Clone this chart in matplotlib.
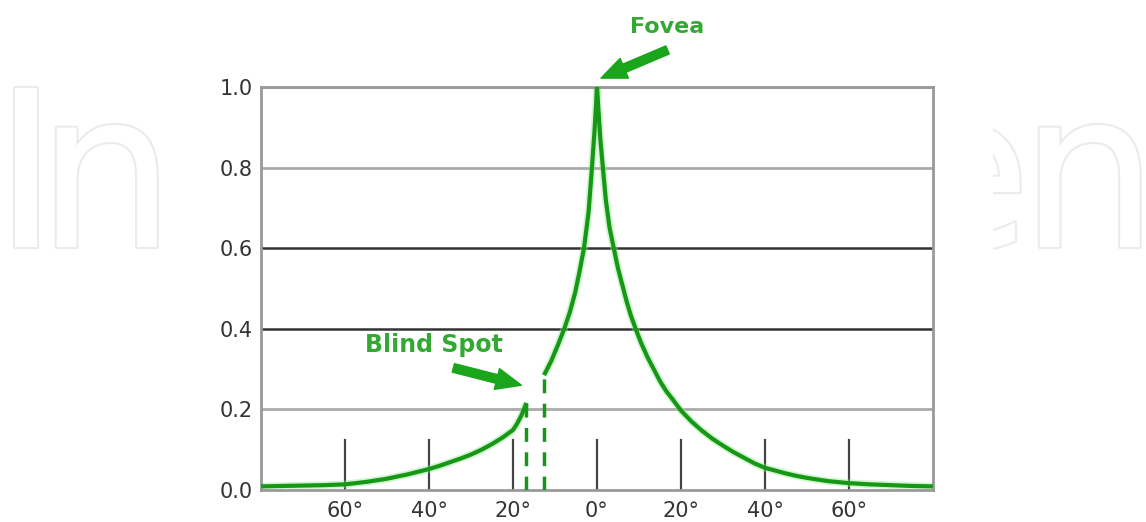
import numpy as np
import matplotlib
matplotlib.use('Agg')
import matplotlib.pyplot as plt
import matplotlib.patheffects as pe
from matplotlib.patches import Rectangle

# relative sensitivity vs angle from fovea (degrees)
right_deg = [0, 0.3, 0.8, 1.4, 2.1, 3.0, 4.0, 5.0, 6.0, 7.0, 8.0, 9.2, 10.5, 12, 13.5, 15, 16.5, 18, 20,
	22.5, 25, 27.5, 30, 32.5, 35, 37.5, 40, 42.5, 45, 47.5, 50, 55, 60, 65, 70, 75, 80]
right_val = [1.0, 0.95, 0.87, 0.80, 0.72, 0.65, 0.60, 0.55, 0.51, 0.47, 0.435, 0.40, 0.365, 0.33, 0.30, 0.27, 0.245, 0.225, 0.197,
	0.17, 0.147, 0.127, 0.11, 0.094, 0.08, 0.066, 0.055, 0.048, 0.041, 0.035, 0.03, 0.022, 0.017, 0.014, 0.012, 0.010, 0.009]

left_inner_deg = [-12.6, -10.9, -9.3, -7.8, -6.5, -5.2, -4.2, -3.1, -2.0, -1.2, -0.6, -0.2, 0]
left_inner_val = [0.285, 0.32, 0.36, 0.40, 0.44, 0.49, 0.54, 0.60, 0.69, 0.80, 0.89, 0.96, 1.0]

left_outer_deg = [-80, -75, -70, -65, -60, -55, -50, -45, -40, -37.5, -35, -32.5, -30, -27.5, -25, -22.5, -20, -19, -18, -16.8]
left_outer_val = [0.009, 0.010, 0.011, 0.012, 0.014, 0.02, 0.028, 0.039, 0.052, 0.06, 0.069, 0.078, 0.088, 0.10, 0.114, 0.13, 0.149, 0.165, 0.185, 0.216]

tick_pos = [-60, -40, -20, 0, 20, 40, 60]
tick_labels = ['60°', '40°', '20°', '0°', '20°', '40°', '60°']
y_ticks = [0.0, 0.2, 0.4, 0.6, 0.8, 1.0]

green = '#169816'
halo = '#8ee88e'
text_green = '#34a834'

fig = plt.figure(figsize=(11.46, 5.22), dpi=100)

# faint watermark letters behind the chart (only the outer ones show)
for s, x0 in [('I', -6), ('n', 37), ('e', 897), ('n', 1020)]:
	fig.text(x0 / 1146, 1 - 247 / 522, s, fontsize=157, color='white', zorder=-3,
		va='baseline', ha='left', family='DejaVu Sans',
		path_effects=[pe.Stroke(linewidth=3, foreground='#ebebeb'), pe.Normal()])
fig.patches.append(Rectangle((172 / 1146, 0), (993 - 172) / 1146, 1, transform=fig.transFigure,
	facecolor='white', edgecolor='none', zorder=-2))

ax = fig.add_axes([261 / 1146, 1 - 490 / 522, (933 - 261) / 1146, (490 - 87) / 522])
ax.set_xlim(-80, 80)
ax.set_ylim(0, 1.0)

# horizontal rules
for y in [0.2, 0.8, 1.0]:
	ax.axhline(y, color='#aaaaaa', lw=2, zorder=1)
for y in [0.4, 0.6]:
	ax.axhline(y, color='#333333', lw=1.8, zorder=1)

# short vertical tick bars
for t in tick_pos:
	ax.plot([t, t], [0, 0.125], color='#444444', lw=1.6, zorder=1)

for xs, ys in [(right_deg, right_val), (left_inner_deg, left_inner_val), (left_outer_deg, left_outer_val)]:
	ax.plot(xs, ys, color=halo, lw=5.5, alpha=0.4, zorder=2, solid_capstyle='butt')
	ax.plot(xs, ys, color=green, lw=3, zorder=3, solid_capstyle='butt', solid_joinstyle='round')

# blind spot edges
ax.plot([left_outer_deg[-1]] * 2, [0, left_outer_val[-1]], color=green, lw=2.5, ls=(0, (4, 3)), zorder=3)
ax.plot([left_inner_deg[0]] * 2, [0, left_inner_val[0]], color=green, lw=2.5, ls=(0, (4, 3)), zorder=3)

for sp in ax.spines.values():
	sp.set_color('#999999')
	sp.set_linewidth(2)

ax.set_yticks(y_ticks)
ax.set_yticklabels([f'{v:.1f}' for v in y_ticks])
ax.set_xticks(tick_pos)
ax.set_xticklabels(tick_labels)
ax.tick_params(length=0, labelsize=15, labelcolor='#333333', pad=6)
ax.tick_params(axis='x', pad=8)

ax.text(16.8, 1.149, 'Fovea', color=text_green, fontsize=16, fontweight='bold',
	ha='center', va='center', clip_on=False)
ax.annotate('', xy=(0.95, 1.022), xytext=(16.8, 1.092), annotation_clip=False,
	arrowprops=dict(arrowstyle='simple,head_length=1.3,head_width=1.1,tail_width=0.45',
		color='#1aa51a', mutation_scale=14, shrinkA=0, shrinkB=0))

ax.text(-38.9, 0.36, 'Blind Spot', color=text_green, fontsize=17, fontweight='bold',
	ha='center', va='center')
ax.annotate('', xy=(-18.0, 0.26), xytext=(-34.2, 0.303), annotation_clip=False,
	arrowprops=dict(arrowstyle='simple,head_length=1.3,head_width=1.1,tail_width=0.45',
		color='#1aa51a', mutation_scale=14, shrinkA=0, shrinkB=0))

fig.savefig('out.png', dpi=100)
